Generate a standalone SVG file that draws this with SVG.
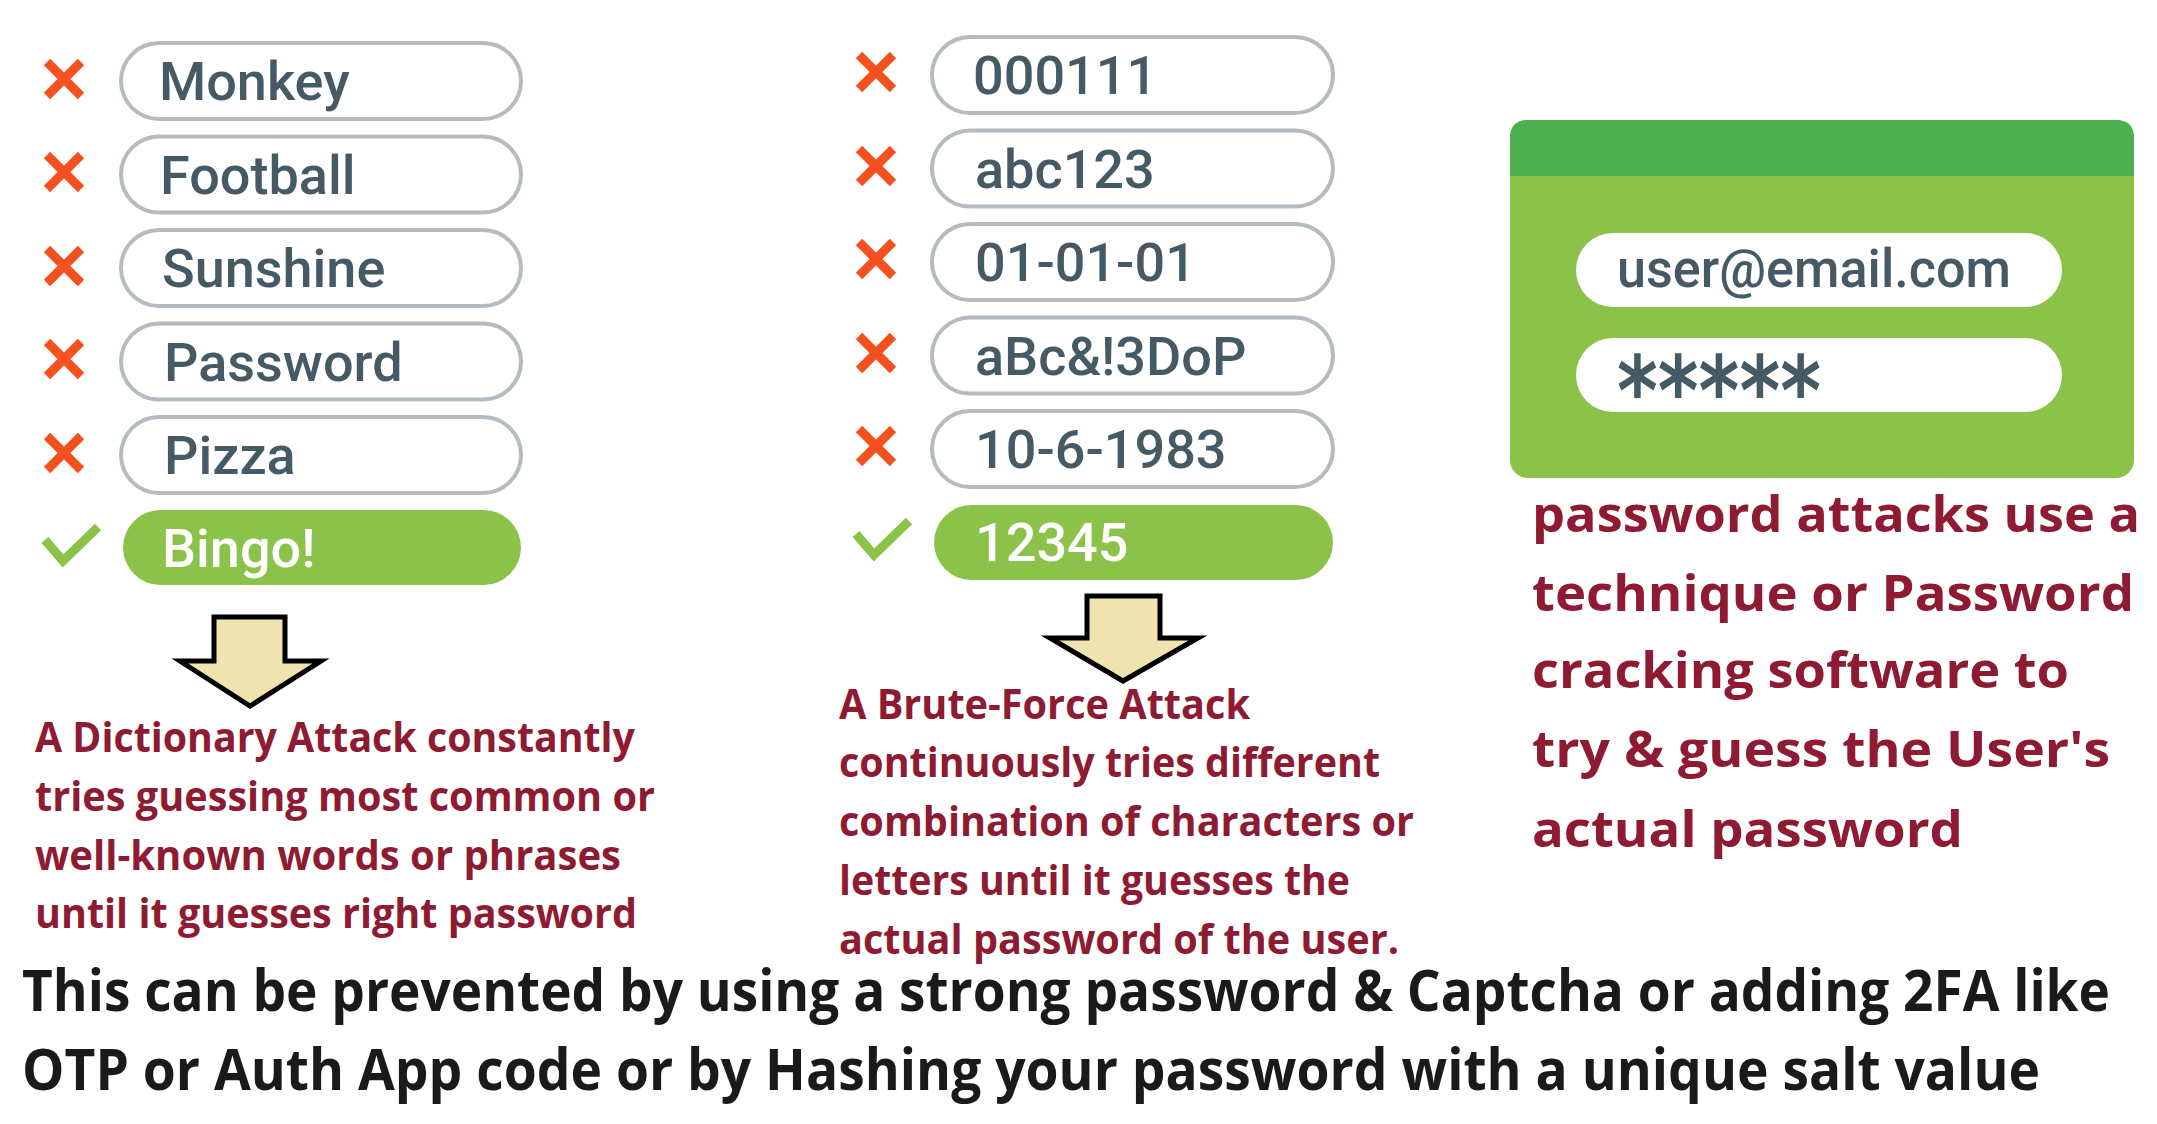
<svg xmlns="http://www.w3.org/2000/svg" width="2157" height="1124" viewBox="0 0 2157 1124">
<style>
.pill{fill:#ffffff;stroke:#b4bcc0;stroke-width:4}
.ok{fill:#8bc34a}
.pt{font-family:Roboto,"Noto Sans",sans-serif;font-weight:500;font-size:54px;fill:#455a64}
.pw{fill:#ffffff}
.x{stroke:#f4511e;stroke-width:9;stroke-linecap:butt;fill:none}
.chk{stroke:#8bc34a;stroke-width:9;fill:none}
.red{font-family:"Open Sans","Noto Sans",sans-serif;font-weight:700;fill:#8e1b32}
.sm{font-size:41px}
.bg{font-size:51px}
.blk{font-family:"Open Sans","Noto Sans",sans-serif;font-weight:700;font-size:58px;fill:#1a1a1a}
.arr{fill:#efe4b0;stroke:#000;stroke-width:5;stroke-linejoin:miter}
.ast{font-family:"DejaVu Sans",sans-serif;font-weight:700;font-size:96px;fill:#455a64}
</style>
<defs>
<g id="xm"><path class="x" d="M-17,-17 L17,17 M17,-17 L-17,17"/></g>
</defs>
<rect width="2157" height="1124" fill="#ffffff"/>

<g id="dictionary-list">
<g id="d1"><use href="#xm" x="64" y="79"/><rect class="pill" x="121" y="43" width="400" height="76" rx="38"/><text class="pt" x="159" y="100">Monkey</text></g>
<g id="d2"><use href="#xm" x="64" y="172"/><rect class="pill" x="121" y="136.5" width="400" height="76" rx="38"/><text class="pt" x="160" y="193.5">Football</text></g>
<g id="d3"><use href="#xm" x="64" y="266"/><rect class="pill" x="121" y="230" width="400" height="76" rx="38"/><text class="pt" x="162" y="287">Sunshine</text></g>
<g id="d4"><use href="#xm" x="64" y="359"/><rect class="pill" x="121" y="323.5" width="400" height="76" rx="38"/><text class="pt" x="164" y="380.5">Password</text></g>
<g id="d5"><use href="#xm" x="64" y="453"/><rect class="pill" x="121" y="417" width="400" height="76" rx="38"/><text class="pt" x="164" y="474">Pizza</text></g>
<g id="d6"><path class="chk" d="M45,540 L63,561 L98,527"/><rect class="ok" x="123" y="510" width="398" height="75" rx="37.5"/><text class="pt pw" x="162" y="567">Bingo!</text></g>
</g>

<g id="brute-list">
<g id="b1"><use href="#xm" x="876" y="72"/><rect class="pill" x="932" y="37" width="401" height="76" rx="38"/><text class="pt" x="973" y="94">000111</text></g>
<g id="b2"><use href="#xm" x="876" y="166"/><rect class="pill" x="932" y="130.5" width="401" height="76" rx="38"/><text class="pt" x="975" y="187.5">abc123</text></g>
<g id="b3"><use href="#xm" x="876" y="259"/><rect class="pill" x="932" y="224" width="401" height="76" rx="38"/><text class="pt" x="975" y="281">01-01-01</text></g>
<g id="b4"><use href="#xm" x="876" y="353"/><rect class="pill" x="932" y="317.5" width="401" height="76" rx="38"/><text class="pt" x="975" y="374.5">aBc&amp;!3DoP</text></g>
<g id="b5"><use href="#xm" x="876" y="446"/><rect class="pill" x="932" y="411" width="401" height="76" rx="38"/><text class="pt" x="975" y="468">10-6-1983</text></g>
<g id="b6"><path class="chk" d="M856,534 L874,555 L909,521"/><rect class="ok" x="934" y="505" width="399" height="75" rx="37.5"/><text class="pt pw" x="975" y="561">12345</text></g>
</g>

<g id="login-card">
<rect x="1510" y="120" width="624" height="358" rx="18" fill="#8bc34a"/>
<path d="M1510,176 L1510,138 Q1510,120 1528,120 L2116,120 Q2134,120 2134,138 L2134,176 Z" fill="#4caf50"/>
<rect x="1576" y="233" width="486" height="74" rx="37" fill="#ffffff"/>
<rect x="1576" y="338" width="486" height="74" rx="37" fill="#ffffff"/>
<text class="pt" x="1617" y="287" font-size="46" textLength="394" lengthAdjust="spacingAndGlyphs">user@email.com</text>
<text class="ast" x="1617" y="425" textLength="204" lengthAdjust="spacingAndGlyphs">*****</text>
</g>

<g id="connectors">
<path id="arrow-dict" class="arr" d="M214,617 L285,617 L285,661 L321,661 L250,706 L180,661 L214,661 Z"/>
<path id="arrow-brute" class="arr" d="M1087,596 L1160,596 L1160,638 L1198,638 L1123,681 L1050,638 L1087,638 Z"/>
</g>

<g id="dict-text" class="red sm">
<text x="35" y="752" textLength="600" lengthAdjust="spacingAndGlyphs">A Dictionary Attack constantly</text>
<text x="35" y="811" textLength="620" lengthAdjust="spacingAndGlyphs">tries guessing most common or</text>
<text x="35" y="870" textLength="586" lengthAdjust="spacingAndGlyphs">well-known words or phrases</text>
<text x="35" y="928" textLength="602" lengthAdjust="spacingAndGlyphs">until it guesses right password</text>
</g>

<g id="brute-text" class="red sm">
<text x="839" y="719" textLength="411" lengthAdjust="spacingAndGlyphs">A Brute-Force Attack</text>
<text x="839" y="777" textLength="541" lengthAdjust="spacingAndGlyphs">continuously tries different</text>
<text x="839" y="836" textLength="575" lengthAdjust="spacingAndGlyphs">combination of characters or</text>
<text x="839" y="895" textLength="511" lengthAdjust="spacingAndGlyphs">letters until it guesses the</text>
<text x="839" y="954" textLength="560" lengthAdjust="spacingAndGlyphs">actual password of the user.</text>
</g>

<g id="attack-text" class="red bg">
<text x="1532" y="532" textLength="608" lengthAdjust="spacingAndGlyphs">password attacks use a</text>
<text x="1532" y="611" textLength="602" lengthAdjust="spacingAndGlyphs">technique or Password</text>
<text x="1532" y="688" textLength="537" lengthAdjust="spacingAndGlyphs">cracking software to</text>
<text x="1532" y="767" textLength="578" lengthAdjust="spacingAndGlyphs">try &amp; guess the User's</text>
<text x="1532" y="847" textLength="431" lengthAdjust="spacingAndGlyphs">actual password</text>
</g>

<g id="prevention-text" class="blk">
<text x="22" y="1011" textLength="2088" lengthAdjust="spacingAndGlyphs">This can be prevented by using a strong password &amp; Captcha or adding 2FA like</text>
<text x="22" y="1090" textLength="2018" lengthAdjust="spacingAndGlyphs">OTP or Auth App code or by Hashing your password with a unique salt value</text>
</g>
</svg>
